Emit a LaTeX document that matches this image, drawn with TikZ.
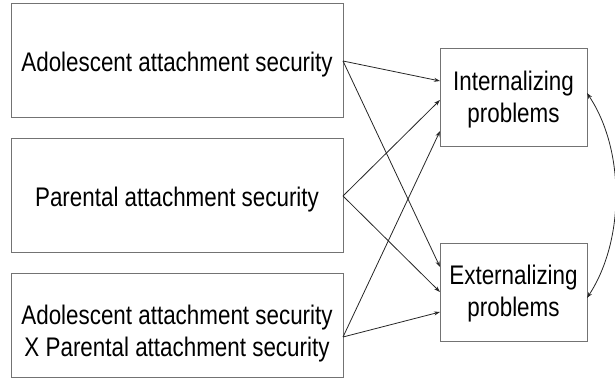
\documentclass[tikz,border=0pt]{standalone}
\usepackage{fontspec}
\setmainfont{Liberation Sans}
\usetikzlibrary{arrows.meta}
\newcommand{\vs}[2][0pt]{\raisebox{#1}[\height][\depth]{\scalebox{1}[1.2]{#2}}}
\begin{document}
\begin{tikzpicture}[x=1pt,y=-1pt,
  box/.style={draw=black!55,line width=1pt,inner sep=0pt,align=center,font=\fontsize{22.4}{32}\selectfont},
  arr/.style={draw=black!85,line width=0.8pt,-{Stealth[length=6pt,width=4pt]}}]
\useasboundingbox (0,0) rectangle (615,387);
\node[box,minimum width=332pt,minimum height=114pt] (a) at (177,61) {\vs[-4pt]{Adolescent attachment security}};
\node[box,minimum width=332pt,minimum height=113pt] (p) at (177,195.5) {\vs[-4pt]{Parental attachment security}};
\node[box,minimum width=332pt,minimum height=104pt] (x) at (177,325) {\vs[-9pt]{Adolescent attachment security}\\\vs[-9pt]{X Parental attachment security}};
\node[box,minimum width=147pt,minimum height=98pt] (i) at (513.5,97.5) {\vs[-2pt]{Internalizing}\\\vs[-2pt]{problems}};
\node[box,minimum width=147pt,minimum height=98pt] (e) at (513.5,292) {\vs[-2pt]{Externalizing}\\\vs[-2pt]{problems}};
\coordinate (a0) at (343,61);
\coordinate (p0) at (343,196);
\coordinate (x0) at (343,337);
\coordinate (i1) at (440,81);
\coordinate (i2) at (440,100);
\coordinate (i3) at (440,131);
\coordinate (e1) at (440,267);
\coordinate (e2) at (440,292);
\coordinate (e3) at (440,312);
\coordinate (ir) at (587,93);
\coordinate (er) at (587,298);
\draw[arr] (a0) -- (i1);
\draw[arr] (a0) -- (e1);
\draw[arr] (p0) -- (i2);
\draw[arr] (p0) -- (e2);
\draw[arr] (x0) -- (i3);
\draw[arr] (x0) -- (e3);
\draw[draw=black!85,line width=0.8pt,{Stealth[length=6pt,width=4pt]}-{Stealth[length=6pt,width=4pt]}] (ir) .. controls (625,150) and (625,240) .. (er);
\end{tikzpicture}
\end{document}
